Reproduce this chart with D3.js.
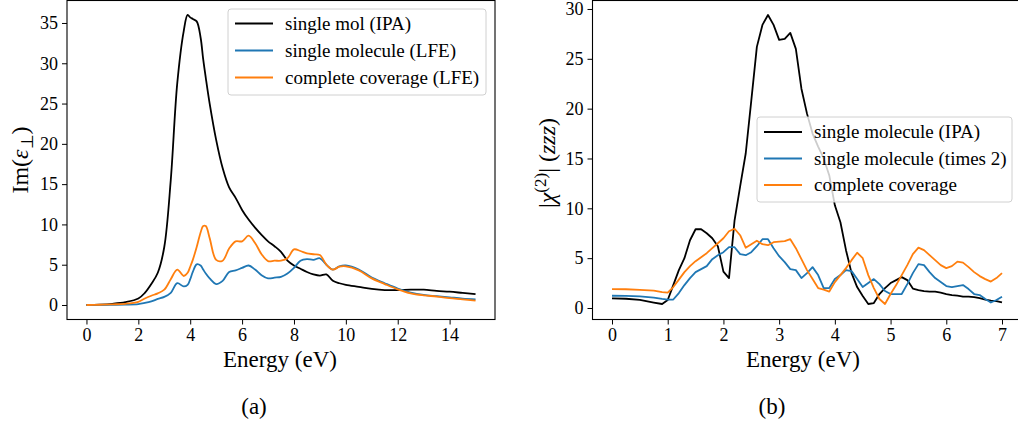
<!DOCTYPE html>
<html>
<head>
<meta charset="UTF-8">
<title>Im(eps) / chi2 spectra</title>
<script src="https://cdn.jsdelivr.net/npm/d3@7"></script>
<style>
body{margin:0;background:#fff;}
svg{display:block;font-family:"Liberation Serif",serif;}
svg text{font-family:"Liberation Serif",serif !important;}
.tick text{font-size:18px;fill:#000;}
.tick line{stroke:#000;stroke-width:1;}
</style>
</head>
<body>
<script>
// ---------- panel (a): Im(eps_perp) ----------
var energyA = [0, 0.5, 1, 1.5, 2, 2.25, 2.5, 2.75, 3, 3.25,
  3.5, 3.75, 3.9, 4, 4.1, 4.25, 4.4, 4.5, 4.6, 4.75,
  5, 5.25, 5.5, 5.75, 6, 6.25, 6.5, 6.75, 7, 7.25,
  7.5, 7.75, 8, 8.25, 8.5, 8.75, 9, 9.25, 9.5, 9.75,
  10, 10.5, 11, 11.5, 12, 12.5, 13, 13.5, 14, 14.5, 15];
var imIPA = [0, 0.05, 0.15, 0.35, 0.8, 1.5, 2.6, 4.0, 7.2, 15.5,
  27.5, 34.0, 36.0, 35.7, 35.5, 35.2, 33.2, 30.5, 28.2, 25.0,
  20.5, 17.0, 14.6, 13.3, 11.8, 10.6, 9.6, 8.7, 7.9, 7.3,
  6.6, 5.5, 4.9, 4.5, 4.1, 3.8, 3.65, 3.8, 3.0, 2.7,
  2.5, 2.25, 2.0, 1.85, 1.85, 1.9, 1.9, 1.75, 1.65, 1.5, 1.35];
var imLFE = [0, 0.01, 0.02, 0.04, 0.1, 0.25, 0.45, 0.75, 1.0, 1.5,
  2.7, 2.3, 2.5, 3.2, 4.1, 5.05, 4.9, 4.4, 3.9, 3.3,
  2.6, 3.0, 4.1, 4.3, 4.6, 4.9, 4.4, 3.7, 3.3, 3.4,
  3.5, 3.9, 4.6, 5.5, 5.7, 5.6, 5.8, 5.0, 4.4, 4.8,
  4.9, 4.4, 3.4, 2.7, 2.05, 1.55, 1.25, 1.1, 0.95, 0.8, 0.7];
var imCov = [0, 0.03, 0.08, 0.15, 0.4, 0.8, 1.15, 1.45, 1.9, 3.2,
  4.4, 3.6, 4.0, 4.75, 5.6, 7.2, 9.0, 9.8, 9.8, 8.3,
  5.6, 5.5, 7.0, 7.9, 7.9, 8.6, 7.7, 6.3, 5.45, 5.5,
  5.5, 5.8, 6.9, 6.7, 6.4, 6.3, 6.2, 5.0, 4.4, 4.75,
  4.8, 4.3, 3.3, 2.6, 1.95, 1.45, 1.2, 1.05, 0.85, 0.7, 0.53];
var xTicksA = [0, 2, 4, 6, 8, 10, 12, 14];
var yTicksA = [0, 5, 10, 15, 20, 25, 30, 35];
var namesA = ["single mol (IPA)", "single molecule (LFE)", "complete coverage (LFE)"];

// ---------- panel (b): |chi2| zzz ----------
var energyB = [0, 0.25, 0.5, 0.75, 0.9, 1.0, 1.1, 1.2, 1.3, 1.4,
  1.5, 1.6, 1.7, 1.8, 1.9, 2.0, 2.1, 2.2, 2.3, 2.4,
  2.5, 2.6, 2.7, 2.8, 2.9, 3.0, 3.1, 3.2, 3.3, 3.4,
  3.5, 3.6, 3.7, 3.8, 3.9, 4.0, 4.1, 4.2, 4.3, 4.4,
  4.5, 4.6, 4.7, 4.8, 4.9, 5.0, 5.1, 5.2, 5.3, 5.4,
  5.5, 5.6, 5.7, 5.8, 5.9, 6.0, 6.1, 6.2, 6.3, 6.4,
  6.5, 6.6, 6.7, 6.8, 6.9, 7.0];
var chiIPA = [0.97, 0.93, 0.82, 0.55, 0.4, 0.8, 2.3, 3.8, 5.0, 6.8,
  7.9, 7.9, 7.5, 7.0, 6.2, 3.65, 3.0, 8.8, 12.2, 15.5,
  20.8, 26.2, 28.4, 29.4, 28.4, 26.9, 27.0, 27.6, 26.0, 22.0,
  19.5, 17.5, 16.2, 15.0, 13.3, 10.3, 8.6, 5.8, 3.5, 2.1,
  1.2, 0.4, 0.5, 1.4, 2.0, 2.5, 2.8, 3.1, 2.8, 1.95,
  1.8, 1.7, 1.65, 1.65, 1.55, 1.4, 1.3, 1.25, 1.15, 1.15,
  1.1, 1.0, 0.85, 0.75, 0.7, 0.57];
var chiTimes2 = [1.23, 1.21, 1.17, 1.05, 0.92, 0.85, 0.85, 1.5, 2.3, 3.0,
  3.6, 3.9, 4.2, 4.9, 5.3, 5.6, 6.1, 6.1, 5.4, 5.3,
  5.6, 6.2, 6.9, 6.9, 6.0, 5.2, 4.6, 3.9, 3.8, 3.0,
  3.5, 4.1, 3.3, 2.0, 2.0, 2.9, 3.3, 3.8, 3.7, 2.9,
  2.1, 2.5, 2.9, 2.4, 1.7, 1.4, 1.4, 1.4, 2.4, 3.5,
  4.4, 4.3, 3.6, 3.0, 2.6, 2.2, 2.1, 2.2, 2.3, 1.9,
  1.4, 1.3, 0.9, 0.55, 0.8, 1.13];
var chiCov = [1.9, 1.88, 1.82, 1.75, 1.6, 1.55, 2.1, 2.85, 3.6, 4.2,
  4.7, 5.1, 5.5, 6.0, 6.5, 7.0, 7.7, 7.95, 7.3, 6.05,
  6.4, 6.75, 6.4, 6.3, 6.6, 6.65, 6.7, 6.9, 6.0, 4.9,
  3.8, 2.9, 2.0, 1.85, 1.65, 2.6, 3.3, 4.0, 4.8, 5.55,
  5.0, 3.3, 2.0, 0.9, 0.4, 1.4, 2.3, 3.3, 4.3, 5.4,
  6.05, 5.8, 5.3, 4.8, 4.3, 4.0, 4.2, 4.65, 4.55, 4.1,
  3.6, 3.2, 2.9, 2.65, 3.0, 3.5];
var xTicksB = [0, 1, 2, 3, 4, 5, 6, 7];
var yTicksB = [0, 5, 10, 15, 20, 25, 30];
var namesB = ["single molecule (IPA)", "single molecule (times 2)", "complete coverage"];

var colors = ["#000000", "#1f77b4", "#ff7f0e"];

var svg = d3.select("body")
  .append("svg")
  .attr("width", 1018)
  .attr("height", 424);

var top0 = 0.5, bottom0 = 319.5;

function drawPanel(p) {
  var x = d3.scaleLinear().domain(p.xDomain).range([p.left, p.right]);
  var y = d3.scaleLinear().domain(p.yDomain).range([bottom0, top0]);
  var g = svg.append("g");

  // axes (spines drawn separately as a frame)
  g.append("g")
    .attr("transform", "translate(0," + bottom0 + ")")
    .call(d3.axisBottom(x).tickValues(p.xTicks).tickSize(5).tickPadding(4).tickSizeOuter(0))
    .call(function(a){ a.select(".domain").remove(); });
  g.append("g")
    .attr("transform", "translate(" + p.left + ",0)")
    .call(d3.axisLeft(y).tickValues(p.yTicks).tickSize(5).tickPadding(4).tickSizeOuter(0))
    .call(function(a){ a.select(".domain").remove(); });

  // curves
  var line = d3.line()
    .x(function(d){ return x(d[0]); })
    .y(function(d){ return y(d[1]); })
    .curve(p.curve);
  p.series.forEach(function(s, i){
    g.append("path")
      .datum(p.energy.map(function(e, k){ return [e, s[k]]; }))
      .attr("fill", "none")
      .attr("stroke", colors[i])
      .attr("stroke-width", 1.8)
      .attr("stroke-linejoin", "round")
      .attr("d", line);
  });

  // frame
  g.append("rect")
    .attr("x", p.left).attr("y", top0)
    .attr("width", p.right - p.left).attr("height", bottom0 - top0)
    .attr("fill", "none").attr("stroke", "#000").attr("stroke-width", 1.1);

  // legend
  var lg = g.append("g").attr("transform", "translate(" + p.legend[0] + "," + p.legend[1] + ")");
  lg.append("rect")
    .attr("width", p.legend[2]).attr("height", p.legend[3])
    .attr("rx", 3).attr("fill", "#fff").attr("fill-opacity", 0.8)
    .attr("stroke", "#d0d0d0").attr("stroke-width", 1);
  p.names.forEach(function(n, i){
    var yy = p.legend[4] + i * p.legend[5];
    lg.append("line")
      .attr("x1", 7).attr("x2", 45).attr("y1", yy).attr("y2", yy)
      .attr("stroke", colors[i]).attr("stroke-width", 1.8);
    lg.append("text")
      .attr("x", 57).attr("y", yy).attr("dy", "0.33em")
      .attr("font-size", "19px")
      .text(n);
  });

  // x label and caption
  g.append("text")
    .attr("x", p.xLabelX).attr("y", 367)
    .attr("text-anchor", "middle").attr("font-size", "23px")
    .text("Energy (eV)");
  g.append("text")
    .attr("x", p.captionX).attr("y", 414)
    .attr("text-anchor", "middle").attr("font-size", "23px")
    .text(p.caption);
  return g;
}

var gA = drawPanel({
  left: 67, right: 495,
  xDomain: [-0.75, 15.75], yDomain: [-1.8, 37.79],
  xTicks: xTicksA, yTicks: yTicksA,
  energy: energyA, series: [imIPA, imLFE, imCov], names: namesA,
  curve: d3.curveCatmullRom,
  legend: [228, 9, 258, 86, 14.5, 27],
  xLabelX: 280, captionX: 254, caption: "(a)"
});

var gB = drawPanel({
  left: 592.5, right: 1021.5,
  xDomain: [-0.35, 7.35], yDomain: [-1.154, 30.85],
  xTicks: xTicksB, yTicks: yTicksB,
  energy: energyB, series: [chiIPA, chiTimes2, chiCov], names: namesB,
  curve: d3.curveLinear,
  legend: [757, 117, 255, 85, 15, 26.5],
  xLabelX: 803, captionX: 772, caption: "(b)"
});

// y labels
var ylA = gA.append("text")
  .attr("transform", "translate(20,160) rotate(-90)")
  .attr("text-anchor", "middle").attr("dy", "0.35em")
  .attr("font-size", "24px");
ylA.append("tspan").text("Im(");
ylA.append("tspan").attr("font-style", "italic").text("ε");
ylA.append("tspan").attr("font-size", "17px").attr("dy", "5").text("⊥");
ylA.append("tspan").attr("dy", "-5").text(")");

var ylB = gB.append("text")
  .attr("transform", "translate(547,163) rotate(-90)")
  .attr("text-anchor", "middle").attr("dy", "0.35em")
  .attr("font-size", "24px");
ylB.append("tspan").text("|");
ylB.append("tspan").attr("font-style", "italic").text("χ");
ylB.append("tspan").attr("font-size", "17px").attr("dy", "-9").text("(2)");
ylB.append("tspan").attr("dy", "9").text("| (");
ylB.append("tspan").attr("font-style", "italic").text("zzz");
ylB.append("tspan").text(")");
</script>
</body>
</html>
